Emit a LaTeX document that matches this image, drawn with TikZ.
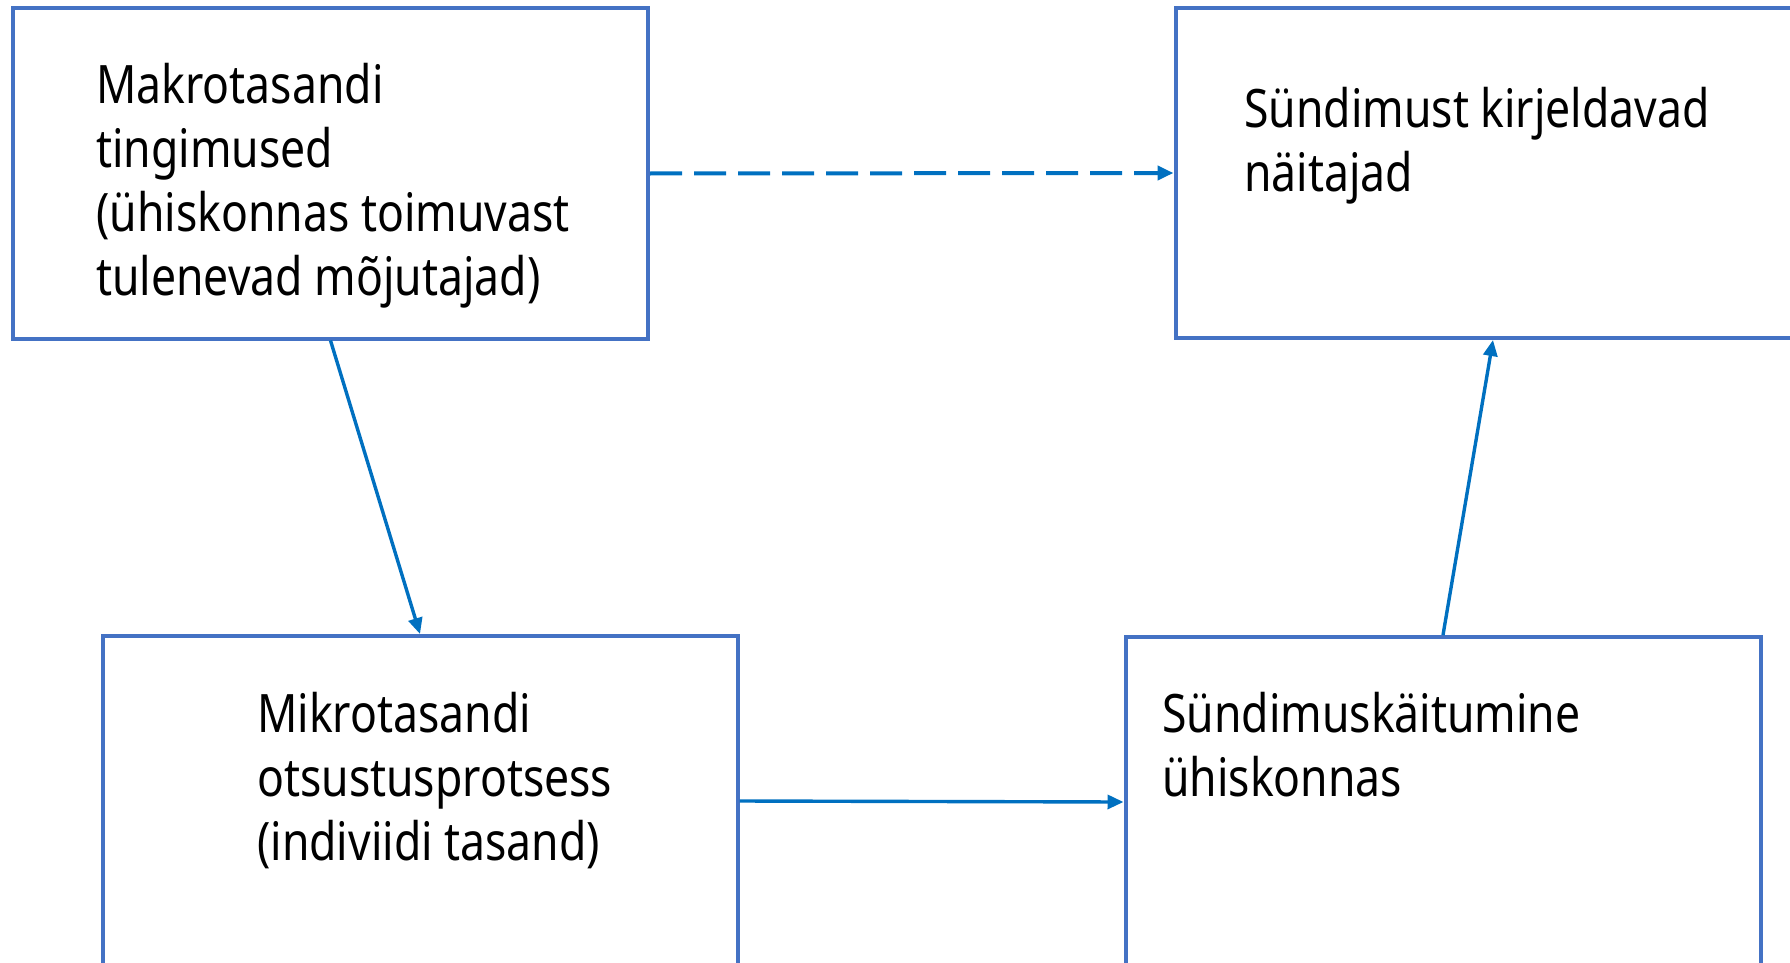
\documentclass[tikz,border=0pt]{standalone}
\usepackage{fontspec}
\setmainfont[FakeStretch=0.84]{Noto Sans}
\usetikzlibrary{arrows.meta, positioning}
\definecolor{boxblue}{HTML}{4472C4}
\definecolor{arrblue}{HTML}{0070C0}

\begin{document}
\begin{tikzpicture}[x=1pt,y=-1pt]
		\tikzstyle{box} = [draw=boxblue, line width=4pt, minimum width=635pt, minimum height=330pt, inner sep=0pt]
		\tikzstyle{txt} = [anchor=base west, align=left, inner sep=0pt, font=\fontsize{53}{64}\selectfont]
		\tikzstyle{conn} = [arrblue, line width=3.4pt, -{Triangle[length=16pt,width=14pt]}]
		\useasboundingbox (0,0) rectangle (1790,963);
		\node[box] (makro) at (330.5,173.5) {}; \node[box] (naitajad) at (1493,173) {};
		\node[box] (mikro) at (420,801) {}; \node[box] (kaitumine) at (1443,802) {};
		% base west = baseline of the last line
		\node[txt] (makro-txt) at (96,295) {Makrotasandi\\tingimused\\(ühiskonnas toimuvast\\tulenevad mõjutajad)};
		\node[txt] (naitajad-txt) at (1244,191) {Sündimust kirjeldavad\\näitajad};
		\node[txt] (mikro-txt) at (257,860) {Mikrotasandi\\otsustusprotsess\\(indiviidi tasand)};
		\node[txt] (kaitumine-txt) at (1162,796) {Sündimuskäitumine\\ühiskonnas};
		
		\draw[conn, line width=4pt, dash pattern=on 32pt off 12pt] (makro.east) -- (naitajad.west);
		\draw[conn] (makro.south) -- (mikro.north);
		\draw[conn] (mikro.east) -- (kaitumine.west);
		\draw[conn] (kaitumine.north) -- (naitajad.south);
		\end{tikzpicture}
\end{document}
